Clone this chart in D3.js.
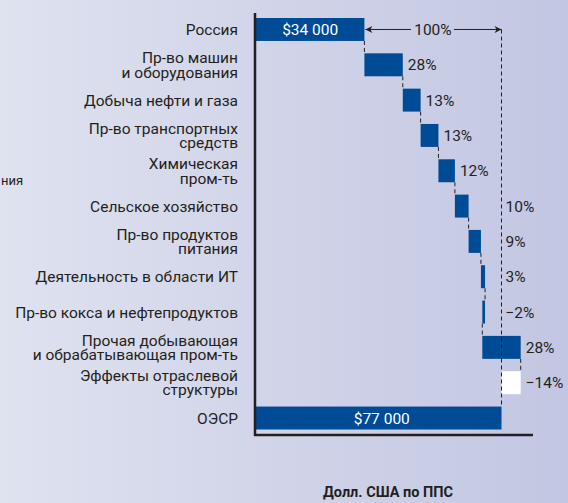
<!DOCTYPE html>
<html>
<head>
<meta charset="utf-8">
<script src="https://cdn.jsdelivr.net/npm/d3@7"></script>
<style>
  html, body { margin: 0; padding: 0; }
  svg { display: block; font-family: Roboto, "Noto Sans", sans-serif; }
</style>
</head>
<body>
<svg id="canvas" width="568" height="503"></svg>
<script>
// rows of the waterfall, top to bottom
const labels = [
  ["Россия"],
  ["Пр-во машин", "и оборудования"],
  ["Добыча нефти и газа"],
  ["Пр-во транспортных", "средств"],
  ["Химическая", "пром-ть"],
  ["Сельское хозяйство"],
  ["Пр-во продуктов", "питания"],
  ["Деятельность в области ИТ"],
  ["Пр-во кокса и нефтепродуктов"],
  ["Прочая добывающая", "и обрабатывающая пром-ть"],
  ["Эффекты отраслевой", "структуры"],
  ["ОЭСР"]
]
const russia = 34000
const oecd = 77000
// contribution of each sector to the gap, %
const shares = [28, 13, 13, 12, 10, 9, 3, -2, 28, -14]
const shareLabels = ["28%", "13%", "13%", "12%", "10%", "9%", "3%", "−2%", "28%", "−14%"]
const totalLabels = ["$34 000", "$77 000"]

const W = 568, H = 503
const blue = "#004b96", ink = "#231f20"
const fs = 15.5
const svg = d3.select("#canvas")

const defs = svg.append("defs")
const grad = defs.append("linearGradient").attr("id", "bg")
grad.append("stop").attr("offset", "0%").attr("stop-color", "#dfe2ef")
grad.append("stop").attr("offset", "100%").attr("stop-color", "#c2c6e2")
svg.append("rect").attr("width", W).attr("height", H).attr("fill", "url(#bg)")

const x = d3.scaleLinear().domain([0, oecd]).range([256, 501.5])
const y = d3.scaleBand().domain(d3.range(labels.length)).range([18, 429.5]).paddingInner(0.35)
const bw = y.bandwidth()
const gap = oecd - russia

// build the steps
const steps = []
let cur = russia
shares.forEach((s, i) => {
  const v = gap * s / 100
  steps.push({ i: i + 1, from: cur, to: cur + v, s, label: shareLabels[i] })
  cur += v
})

// connectors
const dash = "4,3"
const conn = svg.append("g").attr("stroke", ink).attr("stroke-width", 1).attr("stroke-dasharray", dash)
conn.append("line").attr("x1", x(russia)).attr("x2", x(russia))
  .attr("y1", y(0) + bw).attr("y2", y(1))
steps.forEach((d, k) => {
  if (k === steps.length - 1) return
  conn.append("line").attr("x1", x(d.to)).attr("x2", x(d.to))
    .attr("y1", y(d.i) + bw).attr("y2", y(d.i + 1))
})

// bars
svg.append("rect").attr("x", x(0)).attr("y", y(0)).attr("width", x(russia) - x(0)).attr("height", bw).attr("fill", blue)
svg.append("rect").attr("x", x(0)).attr("y", y(11)).attr("width", x(oecd) - x(0)).attr("height", bw).attr("fill", blue)
svg.selectAll("rect.step").data(steps).enter().append("rect")
  .attr("class", "step")
  .attr("x", d => x(Math.min(d.from, d.to)))
  .attr("y", d => y(d.i))
  .attr("width", d => Math.abs(x(d.to) - x(d.from)))
  .attr("height", bw)
  .attr("fill", d => d.i === 10 ? "#ffffff" : blue)

// long dashed line at the OECD level
svg.append("line").attr("x1", x(oecd)).attr("x2", x(oecd))
  .attr("y1", y(0) + bw / 2).attr("y2", y(11))
  .attr("stroke", ink).attr("stroke-dasharray", dash)

// 100% arrow
const ay = y(0) + bw / 2
defs.append("marker").attr("id", "ah").attr("viewBox", "0 0 10 10").attr("refX", 10).attr("refY", 5)
  .attr("markerWidth", 14).attr("markerHeight", 7).attr("markerUnits", "userSpaceOnUse").attr("orient", "auto-start-reverse")
  .append("path").attr("d", "M0,0 L10,5 L0,10 L3,5 Z").attr("fill", ink)
const mid = (x(russia) + x(oecd)) / 2
svg.append("line").attr("x1", x(russia) + 1).attr("x2", mid - 22).attr("y1", ay).attr("y2", ay)
  .attr("stroke", ink).attr("marker-start", "url(#ah)")
svg.append("line").attr("x1", mid + 21).attr("x2", x(oecd)).attr("y1", ay).attr("y2", ay)
  .attr("stroke", ink).attr("marker-end", "url(#ah)")
svg.append("text").attr("x", mid).attr("y", ay + 5.5).attr("text-anchor", "middle")
  .attr("font-size", fs).attr("fill", ink).text("100%")

// axis lines
svg.append("line").attr("x1", 255).attr("x2", 255).attr("y1", 13).attr("y2", 436).attr("stroke", ink).attr("stroke-width", 2.5)
svg.append("line").attr("x1", 254).attr("x2", 533).attr("y1", 435).attr("y2", 435).attr("stroke", ink).attr("stroke-width", 2.5)

// share labels
svg.selectAll("text.share").data(steps).enter().append("text")
  .attr("class", "share")
  .attr("y", d => y(d.i) + bw / 2 + 5.5)
  .attr("font-size", fs).attr("fill", ink)
  .text(d => d.label)
  .attr("x", function (d) {
    const end = x(Math.max(d.from, d.to)) + 5
    const w = this.getComputedTextLength()
    return end + w > x(oecd) - 2 ? Math.max(end, x(oecd) + 4) : end
  })

// totals
svg.append("text").attr("x", (x(0) + x(russia)) / 2).attr("y", y(0) + bw / 2 + 5.5)
  .attr("text-anchor", "middle").attr("fill", "#fff").attr("font-size", fs).text(totalLabels[0])
svg.append("text").attr("x", (x(0) + x(oecd)) / 2 + 3).attr("y", y(11) + bw / 2 + 5.5)
  .attr("text-anchor", "middle").attr("fill", "#fff").attr("font-size", fs).text(totalLabels[1])

// category labels
const cat = svg.append("g").attr("font-size", fs).attr("fill", ink).attr("text-anchor", "end")
labels.forEach((ls, i) => {
  const c = y(i) + bw / 2
  const t = cat.append("text").attr("x", 238)
  ls.forEach((s, j) => {
    t.append("tspan").attr("x", 238)
      .attr("y", c + 5.5 + (j - (ls.length - 1) / 2) * 14.5)
      .text(s)
  })
})

// fragment of the neighbouring panel
svg.append("text").attr("x", 1).attr("y", 185).attr("font-size", 13).attr("fill", ink).text("ния")

// axis title
svg.append("text").attr("x", 388).attr("y", 497).attr("text-anchor", "middle")
  .attr("font-size", 14.5).attr("font-weight", "bold").attr("fill", ink)
  .text("Долл. США по ППС")
</script>
</body>
</html>
